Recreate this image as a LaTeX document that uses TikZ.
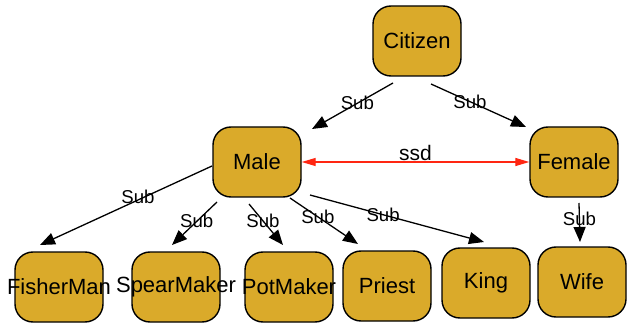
\documentclass[tikz,border=0pt]{standalone}
\usepackage{fontspec}
\setmainfont{Liberation Sans}
\usetikzlibrary{arrows.meta,positioning}
\definecolor{gold}{RGB}{218,170,42}
\definecolor{ssdred}{RGB}{255,38,18}

\begin{document}
\begin{tikzpicture}[x=0.5pt,y=-0.5pt,
  class/.style={draw,line width=0.7pt,fill=gold,rounded corners=9pt,minimum width=44pt,minimum height=35pt,font=\fontsize{11}{13}\selectfont},
  sub/.style={-{Triangle[length=7.5pt,width=6pt]},line width=0.65pt},
  ssd/.style={{Triangle[length=7pt,width=4pt]}-{Triangle[length=7pt,width=4pt]},draw=ssdred,fill=ssdred,line width=0.65pt},
  lbl/.style={inner sep=0pt,font=\fontsize{9.3}{11}\selectfont}]
\useasboundingbox (0,0) rectangle (627,326);
\node[class] (citizen) at (417,41) {Citizen};
\node[class] (male) at (257,162) {Male};
\node[class] (female) at (574,162) {Female};
\node[class] (fisher) at (59,287) {\makebox[0pt]{FisherMan}};
\node[class] (spear) at (176,287) {\makebox[0pt]{SpearMaker}};
\node[class] (pot) at (289,287) {\makebox[0pt]{PotMaker}};
\node[class] (priest) at (387,286) {Priest};
\node[class] (king) at (486,283) {King};
\node[class] (wife) at (582,282) {Wife};
\path[sub]

([shift={(-24,42)}]citizen.center) edge node[lbl,pos=.44] {Sub} ([shift={(55,-33)}]male.center)
([shift={(14,43)}]citizen.center) edge node[lbl,pos=.41] {Sub} ([shift={(-48,-35)}]female.center)
([shift={(-45,4)}]male.center) edge node[lbl,pos=.43,yshift=1.5pt] {Sub} ([shift={(-19,-42)}]fisher.center)
([shift={(-40,40)}]male.center) edge node[lbl,pos=.45] {Sub} ([shift={(-4,-42)}]spear.center)
([shift={(-8,42)}]male.center) edge node[lbl,pos=.41] {Sub} ([shift={(-6,-42)}]pot.center)
([shift={(33,36)}]male.center) edge node[lbl,pos=.41] {Sub} ([shift={(-29,-42)}]priest.center)
([shift={(53,33)}]male.center) edge node[lbl,pos=.42] {Sub} ([shift={(-2,-41)}]king.center)
([shift={(5,41)}]female.center) edge node[lbl,pos=.41] {Sub} ([shift={(-2,-40)}]wife.center)
;
\draw[ssd] (male.east) -- node[lbl,text=black,font=\fontsize{10.5}{12}\selectfont,yshift=4.5pt] {ssd} (female.west);
\end{tikzpicture}
\end{document}
